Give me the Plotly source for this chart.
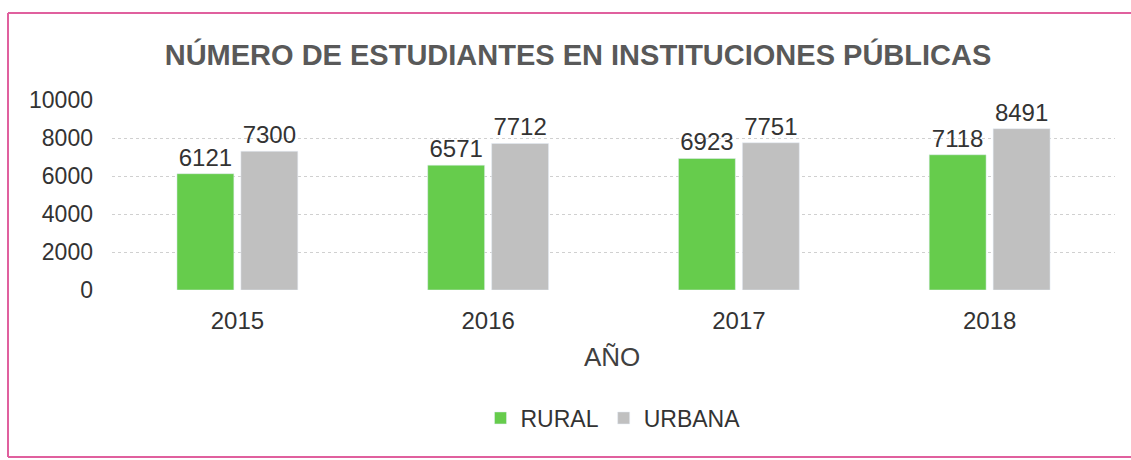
import plotly.graph_objects as go

years = ["2015", "2016", "2017", "2018"]
rural = [6121, 6571, 6923, 7118]
urbana = [7300, 7712, 7751, 8491]
y_ticks = [0, 2000, 4000, 6000, 8000, 10000]

FONT = "Liberation Sans, Arial, sans-serif"
W, H = 1131, 460
L, R, T, B = 112, 16, 100, 170
pw, ph = W - L - R, H - T - B

def px(x):
    return (x - L) / pw

def py(y):
    return (H - B - y) / ph

fig = go.Figure()
fig.add_trace(go.Bar(
    x=years, y=rural, name="RURAL", marker_color="#66cc4c",
    text=rural, textposition="outside", cliponaxis=False,
    textfont=dict(size=24, color="#333333", family=FONT),
))
fig.add_trace(go.Bar(
    x=years, y=urbana, name="URBANA", marker_color="#c0c0c0",
    text=urbana, textposition="outside", cliponaxis=False,
    textfont=dict(size=24, color="#333333", family=FONT),
))

border = dict(color="#e0609e", width=2)
fig.update_layout(
    width=W, height=H,
    margin=dict(l=L, r=R, t=T, b=B, autoexpand=False),
    paper_bgcolor="white", plot_bgcolor="white",
    barmode="group", bargap=0.49, bargroupgap=0.11,
    font=dict(family=FONT, color="#404040"),
    title=dict(
        text="<b>NÚMERO DE ESTUDIANTES EN INSTITUCIONES PÚBLICAS</b>",
        xref="container", x=578 / W, xanchor="center",
        yref="container", y=1 - 55 / H, yanchor="middle",
        font=dict(size=29, color="#595959", family=FONT),
    ),
    xaxis=dict(
        showgrid=False, zeroline=False, showline=False, ticks="",
        ticklabelstandoff=14,
        tickfont=dict(size=24, color="#333333", family=FONT),
    ),
    yaxis=dict(
        range=[0, 10000], tickvals=y_ticks, tickformat="d",
        showline=False, zeroline=False,
        showgrid=True, gridcolor="#d0d0d0", griddash="dot", gridwidth=1,
        tickfont=dict(size=23, color="#333333", family=FONT),
        ticks="", ticklen=0, ticklabelstandoff=18,
    ),
    showlegend=True,
    legend=dict(
        orientation="h", x=px(613), xanchor="center", y=py(418), yanchor="middle",
        font=dict(size=23, color="#333333", family=FONT),
        itemwidth=30, traceorder="normal",
    ),
    annotations=[dict(
        text="AÑO", xref="paper", yref="paper", x=px(612), y=py(357),
        xanchor="center", yanchor="middle", showarrow=False,
        font=dict(size=26, color="#404040", family=FONT),
    )],
    shapes=[
        dict(type="line", xref="paper", yref="paper",
             x0=px(8), x1=px(1131), y0=py(13), y1=py(13), line=border, layer="below"),
        dict(type="line", xref="paper", yref="paper",
             x0=px(8), x1=px(1131), y0=py(457), y1=py(457), line=border, layer="below"),
        dict(type="line", xref="paper", yref="paper",
             x0=px(8), x1=px(8), y0=py(457), y1=py(13), line=border, layer="below"),
    ],
)

fig.write_html(
    "out.html",
    config={"displayModeBar": False},
    post_script="document.body.style.margin='0';document.body.style.padding='0';",
)
